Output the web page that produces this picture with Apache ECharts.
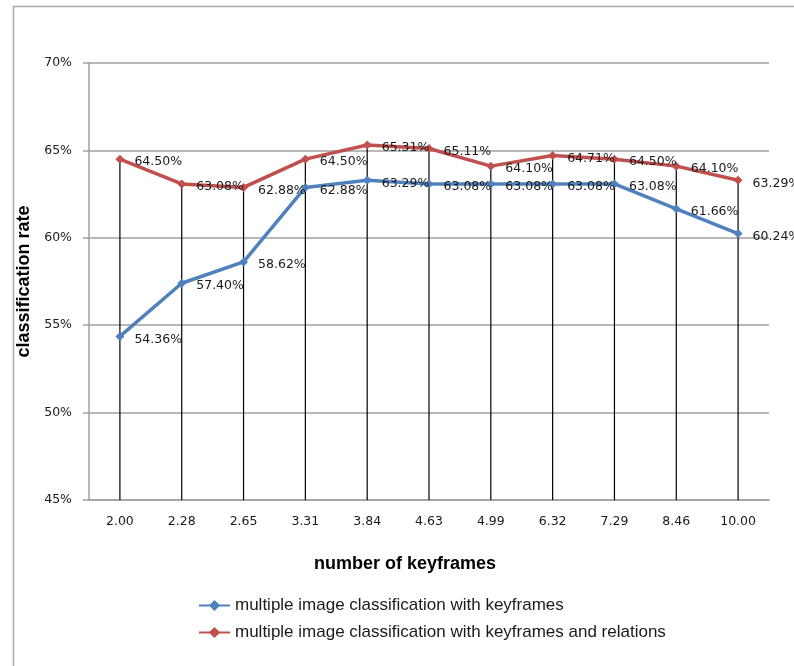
<!DOCTYPE html>
<html>
<head>
<meta charset="utf-8">
<script src="https://cdn.jsdelivr.net/npm/echarts@6/dist/echarts.min.js"></script>
<style>html,body{margin:0;padding:0;background:#fff}#c{width:794px;height:666px}</style>
</head>
<body>
<div id="c"></div>
<script>
const categories = ['2.00','2.28','2.65','3.31','3.84','4.63','4.99','6.32','7.29','8.46','10.00'];
const keyframes = [54.36, 57.40, 58.62, 62.88, 63.29, 63.08, 63.08, 63.08, 63.08, 61.66, 60.24];
const keyframesRelations = [64.50, 63.08, 62.88, 64.50, 65.31, 65.11, 64.10, 64.71, 64.50, 64.10, 63.29];
const seriesNames = ['multiple image classification with keyframes', 'multiple image classification with keyframes and relations'];
const yMin = 45, yMax = 70, yStep = 5;

const labelFont = 'DejaVu Sans';
const chart = echarts.init(document.getElementById('c'), null, {renderer: 'canvas'});
const lbl = {
  show: true, position: 'right', distance: 10, offset: [0, 3],
  fontFamily: labelFont, fontSize: 12.5, color: '#1a1a1a',
  formatter: p => p.value.toFixed(2) + '%'
};
chart.setOption({
  animation: false,
  backgroundColor: '#fff',
  graphic: [{
    type: 'rect', left: 11, top: 4, z: -10,
    shape: {width: 900, height: 800},
    style: {fill: 'none', stroke: '#a6a6a6', lineWidth: 1.5}
  }],
  grid: {left: 89, right: 25, top: 63, bottom: 166, containLabel: false},
  legend: {
    data: seriesNames,
    orient: 'vertical', left: 193, top: 592,
    itemWidth: 31, itemHeight: 14, itemGap: 10,
    textStyle: {fontFamily: 'Liberation Sans', fontSize: 17, color: '#1a1a1a'}
  },
  xAxis: {
    type: 'category', data: categories, boundaryGap: true,
    name: 'number of keyframes', nameLocation: 'middle', nameGap: 55,
    nameTextStyle: {fontFamily: 'Liberation Sans', fontWeight: 'bold', fontSize: 18, color: '#000', padding: [0, 48, 0, 0]},
    axisLine: {lineStyle: {color: '#a0a0a0', width: 1.5}},
    axisTick: {show: false},
    axisLabel: {fontFamily: labelFont, fontSize: 12.5, color: '#1a1a1a', margin: 15}
  },
  yAxis: {
    type: 'value', min: yMin, max: yMax, interval: yStep,
    name: 'classification rate', nameLocation: 'middle', nameGap: 55, nameRotate: 90,
    nameTextStyle: {fontFamily: 'Liberation Sans', fontWeight: 'bold', fontSize: 18, color: '#000'},
    axisLine: {show: true, lineStyle: {color: '#a0a0a0', width: 1.5}},
    axisTick: {show: true, length: 6, lineStyle: {color: '#a0a0a0', width: 1.5}},
    axisLabel: {fontFamily: labelFont, fontSize: 12.5, color: '#1a1a1a', margin: 17, formatter: '{value}%'},
    splitLine: {lineStyle: {color: '#a0a0a0', width: 1.5}}
  },
  series: [
    {
      name: 'drop', type: 'bar', data: keyframesRelations, barWidth: 1.2, silent: true,
      itemStyle: {color: '#000'}, z: 1, legendHoverLink: false
    },
    {
      name: seriesNames[0], type: 'line', data: keyframes,
      symbol: 'diamond', symbolSize: 9,
      lineStyle: {color: '#4F81BD', width: 3.5},
      itemStyle: {color: '#4F81BD'}, label: lbl, z: 3
    },
    {
      name: seriesNames[1], type: 'line', data: keyframesRelations,
      symbol: 'diamond', symbolSize: 9,
      lineStyle: {color: '#C0504D', width: 3.5},
      itemStyle: {color: '#C0504D'}, label: lbl, z: 4
    }
  ]
});
</script>
</body>
</html>
